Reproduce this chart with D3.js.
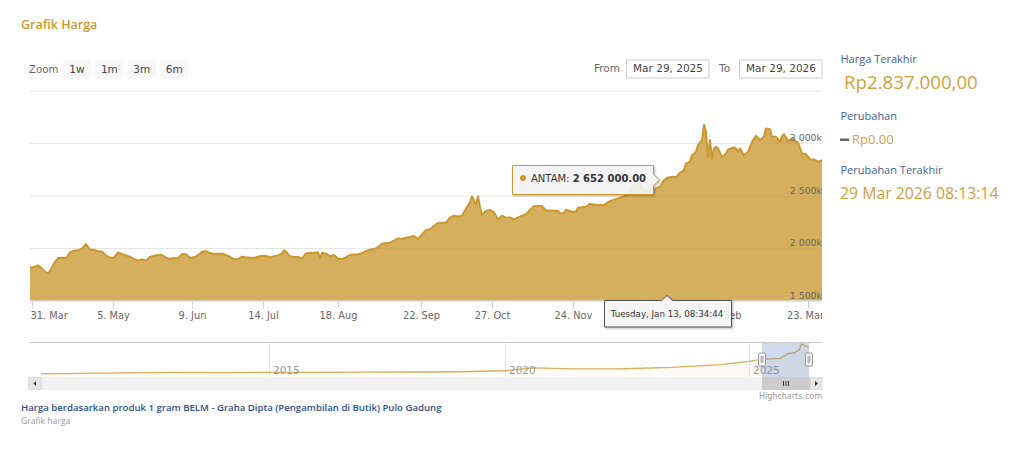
<!DOCTYPE html>
<html>
<head>
<meta charset="utf-8">
<title>Grafik Harga</title>
<script src="https://cdn.jsdelivr.net/npm/d3@7"></script>
<style>
  body { margin: 0; background: #fff; }
  svg { display: block; }
  text { font-family: "DejaVu Sans", sans-serif; }
  .ui { font-family: "Open Sans", sans-serif; }
</style>
</head>
<body>
<div class="chart"></div>
<script>
var svgWidth = 1024;
var svgHeight = 459;

// Price records: ordinal record number and price (thousands of Rp)
var records = [0,2,4,6,8,9,10,12,14,16,18,20,22,24,26,28,30,32,34,36,38,40,42,44,46,48,50,52,54,56,58,60,62,64,66,68,70,72,74,76,78,80,82,84,86,88,90,92,94,96,98,
  100,102,104,106,108,110,112,114,116,118,120,122,124,126,127,128,130,132,134,136,138,140,142,144,145,146,148,150,152,154,156,158,160,162,164,166,168,170,172,174,176,178,180,182,184,186,188,190,192,194,196,198,
  200,202,204,206,208,210,212,214,216,218,220,221,223,224,225,226,228,230,232,234,236,238,240,242,244,246,248,250,252,254,256,258,260,262,264,265,267,268,271,273,274,278,280,283,287,290,294,298,
  300,301,303,305,306,310,312,313,315,317,319,322,323,325,327,328,330,331,333,334,336,337,338,339,340,341,342,343,344,346,348,349,352,353,354,355,357,359,361,363,365,367,368,370,371,373,375,376,377,379,381,384,386,388,390,392,394,396];
var prices = [1813,1819,1835,1806,1768,1759,1781,1854,1905,1908,1901,1959,1975,1978,1994,2038,1984,1984,1968,1968,1927,1908,1908,1959,1943,1930,1917,1895,1879,1892,1882,1914,1927,1933,1933,1908,1895,1905,1901,1943,1940,1908,1911,1930,1965,1971,1952,1943,1946,1946,1933,
  1917,1892,1895,1917,1911,1908,1905,1917,1927,1924,1911,1921,1930,1946,1978,1965,1921,1914,1914,1901,1949,1955,1952,1959,1901,1955,1946,1921,1933,1901,1895,1914,1933,1939,1939,1952,1971,1984,1990,2009,2041,2047,2051,2070,2092,2086,2098,2105,2114,2086,2130,2171,
  2178,2209,2238,2241,2241,2289,2308,2301,2308,2377,2435,2492,2415,2494,2394,2314,2352,2362,2339,2273,2308,2289,2292,2273,2292,2308,2323,2362,2400,2400,2400,2358,2358,2355,2355,2330,2333,2365,2346,2346,2384,2393,2422,2409,2409,2447,2473,2498,
  2520,2590,2600,2605,2560,2540,2555,2568,2584,2647,2673,2679,2673,2717,2742,2806,2822,2885,2917,2980,3028,3174,3107,2869,3028,2853,2949,2965,2949,2863,2901,2939,2958,2949,2917,2949,2885,2917,3012,3069,3028,3060,3139,3133,3060,3060,3012,3066,3085,3022,3044,3003,2901,2895,2844,2844,2822,2837];

// x axis ticks (record numbers) and y axis ticks (thousands)
var tickRecords = [1,41.5,81,116.5,154,195.5,231,271.5,306,348,389];
var tickLabels = ["31. Mar","5. May","9. Jun","14. Jul","18. Aug","22. Sep","27. Oct","24. Nov","29. Dec","2. Feb","23. Mar"];
var yTicks = [1500,2000,2500,3000,3500];

// Navigator: whole history
var navDates = ["2010-04-01","2011-01-01","2012-01-01","2013-01-01","2014-01-01","2015-01-01","2016-01-01","2017-01-01","2018-01-01","2019-01-01","2020-01-01","2020-08-01","2021-06-01","2022-06-01","2023-06-01","2024-06-01","2025-01-01","2025-03-29","2025-08-18","2025-10-20","2025-12-01","2026-01-13","2026-01-29","2026-02-20","2026-03-29"];
var navPrices = [510,560,600,640,620,650,640,670,680,700,790,1050,960,970,1090,1330,1620,1800,1900,2330,2370,2650,3174,3060,2837];
var navYears = [2015,2020,2025];

// Chart geometry
var plot = {left: 30, right: 822, top: 90.6, bottom: 300.5};
var nav = {top: 343, bottom: 377, line: 374, peak: 344};
var gold = "#c9992f";
var parseDay = d3.timeParse("%Y-%m-%d");

var svg = d3.select(".chart").append("svg").attr("width", svgWidth).attr("height", svgHeight);

svg.append("defs").append("clipPath").attr("id", "plot-clip")
  .append("rect").attr("x", plot.left - 4).attr("y", 0).attr("width", plot.right - plot.left + 4).attr("height", svgHeight);
var shadow = svg.select("defs").append("filter").attr("id", "shadow").attr("x", "-10%").attr("y", "-20%").attr("width", "125%").attr("height", "150%");
shadow.append("feDropShadow").attr("dx", 1).attr("dy", 1).attr("stdDeviation", 1).attr("flood-color", "#000").attr("flood-opacity", 0.3);

// Scales
var xScale = d3.scaleLinear().domain([0, 396]).range([plot.left, plot.right]);
var yScale = d3.scaleLinear().domain([1500, 3500]).range([plot.bottom, plot.top]);

// Heading
svg.append("text").attr("class", "ui").attr("x", 21).attr("y", 29)
  .attr("font-size", 12.5).attr("font-weight", 600).attr("fill", gold).text("Grafik Harga");

// Range selector
svg.append("text").attr("x", 29).attr("y", 73).attr("font-size", 10.2).attr("fill", "#666").text("Zoom");
var zoomButtons = ["1w","1m","3m","6m"];
var buttons = svg.selectAll(".btn").data(zoomButtons).enter().append("g")
  .attr("class", "btn")
  .attr("transform", (d, i) => `translate(${63 + i * 32.4}, 60)`);
buttons.append("rect").attr("width", 28).attr("height", 19).attr("rx", 2).attr("fill", "#f7f7f7");
buttons.append("text").attr("x", 14).attr("y", 13).attr("text-anchor", "middle")
  .attr("font-size", 10.5).attr("fill", "#444").text(d => d);

// Date inputs
var dateInputs = [
  {label: "From", value: "Mar 29, 2025", labelX: 594, boxX: 627},
  {label: "To", value: "Mar 29, 2026", labelX: 719, boxX: 740}
];
dateInputs.forEach(function(d) {
  svg.append("text").attr("x", d.labelX).attr("y", 72).attr("font-size", 10.5).attr("fill", "#666").text(d.label);
  svg.append("rect").attr("x", d.boxX - 0.5).attr("y", 60).attr("width", 82.5).attr("height", 18)
    .attr("fill", "#fff").attr("stroke", "#ccc");
  svg.append("text").attr("x", d.boxX + 41).attr("y", 72).attr("text-anchor", "middle")
    .attr("font-size", 10.5).attr("fill", "#444").text(d.value);
});

// Y gridlines
var yAxis = d3.axisLeft(yScale).tickValues(yTicks).tickSize(plot.right - plot.left).tickFormat("");
var yAxisGroup = svg.append("g").attr("transform", `translate(${plot.right}, 0)`).call(yAxis);
yAxisGroup.select(".domain").remove();
yAxisGroup.selectAll("line").attr("stroke", "#e6e6e6");

// Price area and line
var area = d3.area()
  .x((d, i) => xScale(records[i]))
  .y0(plot.bottom)
  .y1(d => yScale(d));
var line = d3.line()
  .x((d, i) => xScale(records[i]))
  .y(d => yScale(d));

svg.append("path").datum(prices).attr("d", area).attr("fill", gold).attr("fill-opacity", 0.78);
svg.append("path").datum(prices).attr("d", line).attr("fill", "none")
  .attr("stroke", gold).attr("stroke-width", 2).attr("stroke-linejoin", "round");

// Y labels sit above their gridline at the right edge
svg.selectAll(".ylabel").data(yTicks.slice(0, 4)).enter().append("text")
  .attr("class", "ylabel")
  .attr("x", plot.right).attr("y", d => yScale(d) - 2)
  .attr("text-anchor", "end").attr("font-size", 9.4).attr("fill", "#666")
  .text(d => d3.format(",")(d).replace(",", " ") + "k");

// X axis
var xAxis = d3.axisBottom(xScale).tickValues(tickRecords).tickSize(8)
  .tickFormat((d, i) => tickLabels[i]);
var xAxisGroup = svg.append("g").attr("transform", `translate(0, ${plot.bottom})`)
  .attr("clip-path", "url(#plot-clip)").call(xAxis);
xAxisGroup.select(".domain").attr("stroke", "#ccd6eb").attr("d", `M${plot.left},0.5H${plot.right}`);
xAxisGroup.selectAll("line").attr("stroke", "#ccd6eb");
xAxisGroup.selectAll("text").attr("font-family", "DejaVu Sans").attr("font-size", 9.8).attr("fill", "#666").attr("y", 12);
xAxisGroup.selectAll("text").filter((d, i) => i === 0).attr("text-anchor", "start").attr("x", plot.left - xScale(tickRecords[0]));
xAxisGroup.selectAll("text").filter((d, i) => i === tickRecords.length - 1).attr("dx", -3);

// Navigator
var navX = d3.scaleTime()
  .domain([parseDay("2010-04-01"), new Date(2015, 0, 1), new Date(2020, 0, 1), new Date(2025, 0, 1), parseDay("2025-03-29"), parseDay("2026-03-29")])
  .range([41, 269, 505, 749, 762, 809]);
var navY = d3.scaleLinear().domain([500, 3174]).range([nav.line, nav.peak]);

var navGrid = d3.axisBottom(navX)
  .tickValues(navYears.map(y => new Date(y, 0, 1)))
  .tickSize(nav.top - nav.bottom)
  .tickFormat("");
var navGridGroup = svg.append("g").attr("transform", `translate(0, ${nav.bottom})`).call(navGrid);
navGridGroup.select(".domain").remove();
navGridGroup.selectAll("line").attr("stroke", "#e6e6e6");

svg.append("path").datum(navPrices)
  .attr("d", d3.area().x((d, i) => navX(parseDay(navDates[i]))).y0(nav.bottom).y1(d => navY(d)))
  .attr("fill", gold).attr("fill-opacity", 0.05);
svg.append("path").datum(navPrices)
  .attr("d", d3.line().x((d, i) => navX(parseDay(navDates[i]))).y(d => navY(d)))
  .attr("fill", "none").attr("stroke", "#d6ae5e").attr("stroke-width", 1.3);

svg.selectAll(".navlabel").data(navYears).enter().append("text")
  .attr("class", "navlabel")
  .attr("x", d => navX(new Date(d, 0, 1)) + 4).attr("y", 374)
  .attr("font-size", 10.5).attr("fill", "#999").text(d => d);

svg.append("line").attr("x1", plot.left - 1).attr("x2", plot.right).attr("y1", 342.5).attr("y2", 342.5).attr("stroke", "#ccc");

// Selected window
var winLeft = navX(parseDay("2025-03-29"));
var winRight = navX(parseDay("2026-03-29"));
svg.append("rect").attr("x", winLeft).attr("y", nav.top).attr("width", winRight - winLeft).attr("height", nav.bottom - nav.top)
  .attr("fill", "#6685c2").attr("fill-opacity", 0.3);
[winLeft, winRight].forEach(function(hx) {
  svg.append("rect").attr("x", hx - 3.5).attr("y", 353).attr("width", 7).attr("height", 13).attr("rx", 1)
    .attr("fill", "#f2f2f2").attr("stroke", "#999");
  svg.append("rect").attr("x", hx - 1.5).attr("y", 356).attr("width", 3).attr("height", 7).attr("fill", "#bbb");
});

// Scrollbar
svg.append("rect").attr("x", plot.left - 1).attr("y", 377).attr("width", plot.right - plot.left + 1).attr("height", 13).attr("fill", "#f2f2f2");
svg.append("rect").attr("x", 28.5).attr("y", 377.5).attr("width", 13).attr("height", 12).attr("fill", "#e6e6e6").attr("stroke", "#ddd");
svg.append("path").attr("d", "M33.5,383.5 L36,381 V386 Z").attr("fill", "#333");
svg.append("rect").attr("x", winLeft).attr("y", 377).attr("width", 48).attr("height", 13).attr("fill", "#ccc");
[-2.5, 0, 2.5].forEach(function(dx) {
  svg.append("rect").attr("x", 786 + dx - 0.5).attr("y", 381).attr("width", 1).attr("height", 5).attr("fill", "#333");
});
svg.append("rect").attr("x", 810.5).attr("y", 377.5).attr("width", 11.5).attr("height", 12).attr("fill", "#e6e6e6").attr("stroke", "#ddd");
svg.append("path").attr("d", "M815,381 L818,383.5 L815,386 Z").attr("fill", "#333");

svg.append("text").attr("x", plot.right).attr("y", 398.5).attr("text-anchor", "end")
  .attr("font-size", 8).attr("fill", "#999").text("Highcharts.com");

// Value tooltip
var tipBubble = "M512.5,165.5 H653.5 V174.5 L659.5,180 L653.5,185.5 V194.5 H512.5 Z";
svg.append("path").attr("d", tipBubble).attr("fill", "#f7f7f7").attr("fill-opacity", 0.88)
  .attr("stroke", gold).attr("filter", "url(#shadow)");
svg.append("circle").attr("cx", 523).attr("cy", 178).attr("r", 3).attr("fill", gold);
var tipText = svg.append("text").attr("x", 531).attr("y", 182).attr("font-size", 10).attr("fill", "#333");
tipText.append("tspan").text("ANTAM: ");
tipText.append("tspan").attr("font-weight", 700).text("2 652 000.00");

// Date tooltip
var dateBubble = "M604.5,300.5 H661.5 L667,295.5 L672.5,300.5 H731.5 V327 H604.5 Z";
svg.append("path").attr("d", dateBubble).attr("fill", "#f7f7f7").attr("fill-opacity", 0.93)
  .attr("stroke", "#555").attr("filter", "url(#shadow)");
svg.append("text").attr("x", 667).attr("y", 317).attr("text-anchor", "middle")
  .attr("font-size", 8.7).attr("fill", "#333").text("Tuesday, Jan 13, 08:34:44");

// Caption
svg.append("text").attr("class", "ui").attr("x", 21).attr("y", 411)
  .attr("font-size", 9.6).attr("font-weight", 600).attr("fill", "#2f4f8a")
  .text("Harga berdasarkan produk 1 gram BELM - Graha Dipta (Pengambilan di Butik) Pulo Gadung");
svg.append("text").attr("class", "ui").attr("x", 21).attr("y", 424)
  .attr("font-size", 8.6).attr("fill", "#999").text("Grafik harga");

// Side panel
var blue = "#3f5f92";
function sideText(x, y, size, color, str) {
  svg.append("text").attr("class", "ui").attr("x", x).attr("y", y)
    .attr("font-size", size).attr("fill", color).text(str);
}
sideText(840.5, 63, 11, blue, "Harga Terakhir");
sideText(844, 89, 18.7, "#cfa040", "Rp2.837.000,00");
sideText(840.5, 120, 11, blue, "Perubahan");
svg.append("rect").attr("x", 840).attr("y", 138.5).attr("width", 9).attr("height", 2.5).attr("fill", "#666");
sideText(852, 144, 13, "#cfa040", "Rp0.00");
sideText(840.5, 174, 11, blue, "Perubahan Terakhir");
sideText(840, 199, 15.8, "#cfa040", "29 Mar 2026 08:13:14");
</script>
</body>
</html>
